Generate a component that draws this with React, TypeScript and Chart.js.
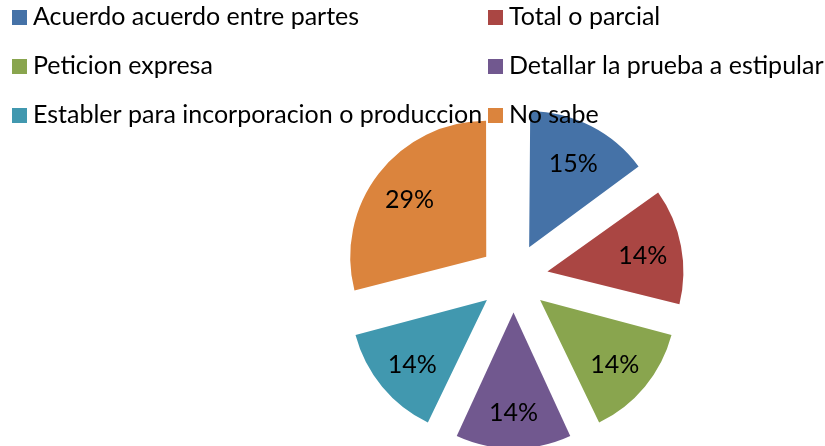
import React, { useEffect, useRef } from "react";
import { Chart, registerables } from "chart.js";

Chart.register(...registerables);

const categories = [
  "Acuerdo acuerdo entre partes",
  "Total o parcial",
  "Peticion expresa",
  "Detallar la prueba a estipular",
  "Establer para incorporacion o produccion",
  "No sabe",
];
const shares = [15, 14, 14, 14, 14, 29];
const sliceLabels = ["15%", "14%", "14%", "14%", "14%", "29%"];
const colors = ["#4572A7", "#AA4643", "#89A54E", "#71588F", "#4198AF", "#DB843D"];

const FONT = "Lato, 'Open Sans', sans-serif";
const RADIUS = 136;
const OFFSET = 138; // Chart.js translates exploded arcs by offset / 4
const LABEL_R = 97;

const equalRadiusPlugin = {
  id: "equalRadius",
  afterDatasetsUpdate(chart: any) {
    const meta = chart.getDatasetMeta(0);
    const t = OFFSET / 4;
    meta.data.forEach((el: any) => {
      const fix = 1 - Math.sin(Math.min(Math.PI, el.circumference || 0));
      el.outerRadius = RADIUS - t * fix;
    });
  },
};

const sliceLabelPlugin = {
  id: "sliceLabels",
  afterDatasetsDraw(chart: any) {
    const ctx = chart.ctx;
    const meta = chart.getDatasetMeta(0);
    const t = OFFSET / 4;
    ctx.save();
    ctx.font = `25px ${FONT}`;
    ctx.fillStyle = "#000";
    ctx.textAlign = "center";
    ctx.textBaseline = "middle";
    meta.data.forEach((el: any, i: number) => {
      const mid = (el.startAngle + el.endAngle) / 2;
      const d = t + LABEL_R;
      ctx.fillText(sliceLabels[i], el.x + Math.cos(mid) * d, el.y + Math.sin(mid) * d + 3);
    });
    ctx.restore();
  },
};

const gridLegendPlugin = {
  id: "gridLegend",
  afterDraw(chart: any) {
    const ctx = chart.ctx;
    const labels: string[] = chart.data.labels;
    const bg: string[] = chart.data.datasets[0].backgroundColor;
    const colX = [12, 488];
    ctx.save();
    ctx.font = `25px ${FONT}`;
    ctx.textAlign = "left";
    ctx.textBaseline = "alphabetic";
    labels.forEach((lab, i) => {
      const col = i % 2;
      const row = Math.floor(i / 2);
      const x = colX[col];
      const base = 25 + row * 49;
      ctx.fillStyle = bg[i];
      ctx.fillRect(x, base - 15, 15, 15);
      ctx.fillStyle = "#000";
      ctx.fillText(lab, x + 21, base);
    });
    ctx.restore();
  },
};

export default function App() {
  const ref = useRef<HTMLCanvasElement | null>(null);
  useEffect(() => {
    if (!ref.current) return;
    const chart = new Chart(ref.current, {
      type: "pie",
      data: {
        labels: categories,
        datasets: [
          {
            data: shares,
            backgroundColor: colors,
            borderWidth: 0,
            offset: OFFSET,
            radius: RADIUS,
            clip: false,
          } as any,
        ],
      },
      options: {
        animation: false,
        responsive: true,
        maintainAspectRatio: false,
        layout: { padding: { left: 202, top: 110, right: 0, bottom: 0 } },
        plugins: {
          legend: { display: false },
          tooltip: { enabled: false },
        },
      },
      plugins: [equalRadiusPlugin, sliceLabelPlugin, gridLegendPlugin],
    });
    return () => chart.destroy();
  }, []);
  return (
    <div style={{ position: "fixed", left: 0, top: 0, width: 825, height: 446, background: "#fff" }}>
      <canvas ref={ref} />
    </div>
  );
}
